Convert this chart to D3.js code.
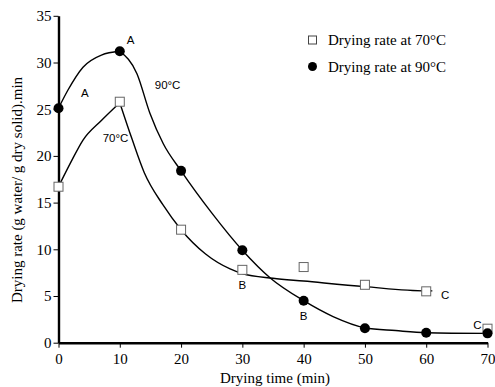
<!DOCTYPE html>
<html><head><meta charset="utf-8">
<script src="https://cdn.jsdelivr.net/npm/d3@7"></script>
<style>body{margin:0;background:#fff}svg{display:block}</style>
</head><body><svg id="c" width="495" height="387"></svg>
<script>
// Measured points
const times = [0, 10, 20, 30, 40, 50, 60, 70];
const rate70 = [16.7, 25.8, 12.1, 7.8, 8.1, 6.2, 5.5, 1.5];
const rate90 = [25.1, 31.2, 18.4, 9.9, 4.5, 1.55, 1.07, 1.0];
// Fitted curves (x, y)
const fit70Rise = [[0,16.7],[2,19.3],[4,21.7],[7,23.8],[10,25.7]];
const fit70Fall = [[10,25.7],[12,21.8],[14,18.2],[17,14.8],[20,12.1],[24,9.5],[28,7.9],[30,7.4],[35,6.9],[40,6.6],[50,6.0],[60,5.55],[61,5.55]];
const fit90Rise = [[0,25.1],[1.5,27.0],[4,29.5],[7,30.8],[10,31.2]];
const fit90Fall = [[10,31.2],[12.8,28.8],[14.9,24.6],[17.1,21.3],[20,18.4],[25,13.9],[30,9.9],[34.6,6.9],[40,4.5],[44.8,2.8],[50,1.6],[55,1.3],[60,1.07],[70,1.0]];
const xTicks = [0,10,20,30,40,50,60,70];
const yTicks = [0,5,10,15,20,25,30,35];
const legendLabels = ["Drying rate at 70°C","Drying rate at 90°C"];
const annotations = [
  {x:10.3,y:31.9,t:"A",dx:9,dy:-4},
  {x:4.3,y:26.6,t:"A",dx:0,dy:0},
  {x:17.8,y:27.5,t:"90°C",dx:0,dy:0},
  {x:9.3,y:21.8,t:"70°C",dx:0,dy:0},
  {x:30,y:7.8,t:"B",dx:0,dy:16},
  {x:40,y:4.5,t:"B",dx:0,dy:16},
  {x:60,y:5.5,t:"C",dx:19,dy:5},
  {x:70,y:1.5,t:"C",dx:-10,dy:-3}
];

const svg = d3.select("#c");
const x = d3.scaleLinear().domain([0,70]).range([58.5,487.5]);
const y = d3.scaleLinear().domain([0,35]).range([342.7,15.8]);
const serif = "'Liberation Serif','Times New Roman',serif";
const sans = "'Liberation Sans',Arial,sans-serif";

// axes
const gx = svg.append("g").attr("transform",`translate(0,${y(0)})`)
  .call(d3.axisBottom(x).tickValues(xTicks).tickSize(5).tickSizeOuter(0).tickPadding(4));
const gy = svg.append("g").attr("transform",`translate(${x(0)},0)`)
  .call(d3.axisLeft(y).tickValues(yTicks).tickSize(5).tickSizeOuter(0).tickPadding(2));
[gx,gy].forEach(g=>{
  g.select(".domain").attr("stroke","#000").attr("stroke-width",2.4);
  g.selectAll(".tick line").attr("stroke","#000").attr("stroke-width",1);
  g.selectAll(".tick text").attr("font-family",serif).attr("font-size",15).attr("fill","#000");
});
gx.selectAll(".tick text").attr("dy","0.85em");

// labels
svg.append("text").attr("x",275).attr("y",383).attr("text-anchor","middle")
  .attr("font-family",serif).attr("font-size",15).text("Drying time (min)");
svg.append("text").attr("transform","translate(22,190) rotate(-90)").attr("text-anchor","middle")
  .attr("font-family",serif).attr("font-size",15).text("Drying rate (g water/ g dry solid).min");

// curves
const line = d3.line().x(d=>x(d[0])).y(d=>y(d[1])).curve(d3.curveMonotoneX);
[fit70Rise,fit70Fall,fit90Rise,fit90Fall].forEach(c=>{
  svg.append("path").attr("d",line(c)).attr("fill","none").attr("stroke","#000").attr("stroke-width",1.4);
});

// markers
const sq = 9;
svg.selectAll("rect.p70").data(times).join("rect").attr("class","p70")
  .attr("x",(d)=>x(d)-sq/2).attr("y",(d,i)=>y(rate70[i])-sq/2).attr("width",sq).attr("height",sq)
  .attr("fill","#fff").attr("stroke","#666").attr("stroke-width",1);
svg.selectAll("circle.p90").data(times).join("circle").attr("class","p90")
  .attr("cx",d=>x(d)).attr("cy",(d,i)=>y(rate90[i])).attr("r",5).attr("fill","#000");

// annotations
svg.selectAll("text.ann").data(annotations).join("text").attr("class","ann")
  .attr("x",d=>x(d.x)+d.dx).attr("y",d=>y(d.y)+d.dy).attr("text-anchor","middle")
  .attr("dominant-baseline","middle")
  .attr("font-family",sans).attr("font-size",11.5).text(d=>d.t);

// legend
const lg = svg.append("g");
lg.append("rect").attr("x",308.5).attr("y",36).attr("width",8).attr("height",8)
  .attr("fill","#fff").attr("stroke","#444").attr("stroke-width",1);
lg.append("circle").attr("cx",312.5).attr("cy",66.5).attr("r",4.5).attr("fill","#000");
lg.selectAll("text").data(legendLabels).join("text")
  .attr("x",328).attr("y",(d,i)=>45+i*26.5)
  .attr("font-family",serif).attr("font-size",15).text(d=>d);
</script></body></html>
